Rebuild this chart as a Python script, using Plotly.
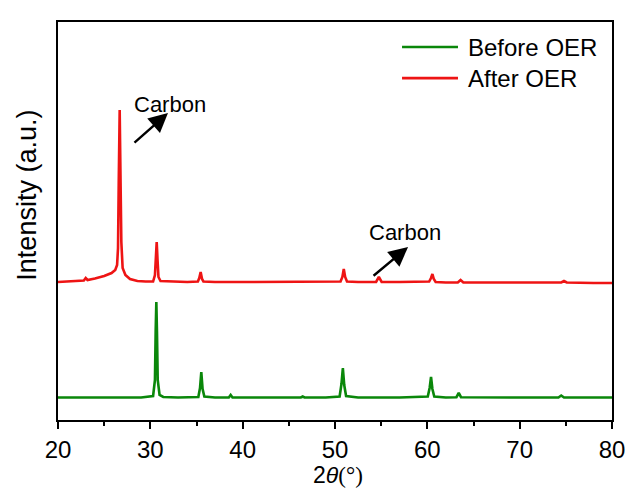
import plotly.graph_objects as go

# XRD patterns (2θ in degrees, intensity in arbitrary units, offset for clarity)
before_2theta = [20.0, 25.0, 29.0, 30.3, 30.5, 30.58, 30.65, 30.72, 30.8, 31.0, 31.4, 33.0,
                 35.2, 35.38, 35.52, 35.66, 35.85, 37.0, 38.5, 38.7, 38.9, 42.0, 46.3, 46.5,
                 46.7, 49.0, 50.5, 50.7, 50.85, 51.0, 51.2, 52.5, 57.0, 60.05, 60.25, 60.4,
                 60.55, 60.75, 62.0, 63.15, 63.4, 63.65, 66.0, 70.0, 74.2, 74.5, 74.8, 78.0, 80.0]
before_intensity = [22.5, 22.5, 22.5, 24, 40, 90, 118, 88, 40, 25, 23, 22.5,
                    23, 32, 48, 31, 23.5, 22.5, 22.5, 25, 22.5, 22.5, 22.5, 23.5,
                    22.5, 22.5, 23.5, 36, 52, 35, 24, 22.5, 22.5, 23.5, 32, 43,
                    31, 23.5, 22.5, 22.8, 27, 22.8, 22.5, 22.5, 22.5, 24.5, 22.5, 22.5, 22.5]

after_2theta = [20.0, 21.0, 22.0, 22.8, 23.0, 23.2, 24.0, 25.0, 25.8, 26.2, 26.4, 26.5,
                26.58, 26.68, 26.78, 26.86, 27.0, 27.3, 27.8, 28.6, 29.5, 30.3, 30.5, 30.6,
                30.69, 30.78, 30.88, 31.1, 32.0, 34.0, 35.15, 35.3, 35.45, 35.6, 35.75, 37.0,
                40.0, 45.0, 48.0, 50.6, 50.8, 50.95, 51.1, 51.3, 52.5, 54.45, 54.75, 55.05,
                57.0, 60.2, 60.4, 60.55, 60.7, 60.9, 62.0, 63.3, 63.6, 63.9, 66.0, 70.0,
                74.5, 74.8, 75.1, 78.0, 80.0]
after_intensity = [138, 138.5, 139, 139.5, 142, 140, 141.5, 144, 147, 150, 155, 172,
                   240, 310, 235, 178, 152, 145, 141, 139, 138.5, 138.5, 145, 168,
                   178, 160, 143, 139, 138.5, 138, 138.5, 142, 148, 141, 138.5, 138,
                   138, 138, 138, 138.5, 143, 151, 143, 138.5, 138, 138, 143, 138,
                   138, 138.5, 142, 146, 141, 138, 137.5, 137.5, 140, 137.5, 137.5, 137.5,
                   137.5, 139, 137.5, 137, 137]

series_names = ["Before OER", "After OER"]
series_colors = ["#0a870a", "#ee1414"]

x_ticks = [20, 30, 40, 50, 60, 70, 80]
label_font = "Liberation Sans, Arial, sans-serif"

fig = go.Figure()
fig.add_trace(go.Scatter(x=before_2theta, y=before_intensity, mode="lines",
                         name=series_names[0], line=dict(color=series_colors[0], width=2.6)))
fig.add_trace(go.Scatter(x=after_2theta, y=after_intensity, mode="lines",
                         name=series_names[1], line=dict(color=series_colors[1], width=2.6)))

# Arrows pointing to the carbon reflections
arrows = [((28.12, 276), (31.91, 307)), ((54.01, 143), (57.91, 173))]
for (tx, ty), (hx, hy) in arrows:
    fig.add_annotation(x=hx, y=hy, ax=tx, ay=ty, xref="x", yref="y", axref="x", ayref="y",
                       text="", showarrow=True, arrowhead=2, arrowsize=1.6,
                       arrowwidth=2.4, arrowcolor="black", standoff=0, startstandoff=0)

for cx, cy in [(32.13, 316), (57.58, 188)]:
    fig.add_annotation(x=cx, y=cy, xref="x", yref="y", text="Carbon", showarrow=False,
                       font=dict(family=label_font, size=22, color="black"))

# Hand-drawn legend
for i, (name, color) in enumerate(zip(series_names, series_colors)):
    ly = [0.937, 0.859][i]
    fig.add_shape(type="line", xref="paper", yref="paper", x0=0.621, x1=0.722, y0=ly, y1=ly,
                  line=dict(color=color, width=2.6))
    fig.add_annotation(x=0.7365, y=ly, xref="paper", yref="paper", text=name,
                       showarrow=False, xanchor="left", yanchor="middle",
                       font=dict(family=label_font, size=24, color="black"))

# Axis titles
fig.add_annotation(x=-0.055, y=0.565, xref="paper", yref="paper", text="Intensity (a.u.)",
                   textangle=-90, showarrow=False, xanchor="center", yanchor="middle",
                   font=dict(family=label_font, size=27, color="black"))
fig.add_annotation(x=0.505, y=-0.139, xref="paper", yref="paper",
                   text="2<i>θ</i><span style='font-family:Liberation Serif'>(°)</span>",
                   showarrow=False, xanchor="center", yanchor="middle",
                   font=dict(family=label_font, size=23, color="black"))

fig.update_xaxes(range=[20, 80], tickmode="array", tickvals=x_ticks,
                 ticktext=[str(t) for t in x_ticks], ticks="outside", ticklen=7,
                 tickwidth=2, tickcolor="black", showline=True, linewidth=2,
                 linecolor="black", mirror=True, showgrid=False, zeroline=False,
                 automargin=False, ticklabelstandoff=0,
                 minor=dict(dtick=5, ticks="outside", ticklen=4, tickwidth=2,
                            tickcolor="black", showgrid=False),
                 tickfont=dict(family=label_font, size=24, color="black"))
fig.update_yaxes(range=[0, 398], showticklabels=False, ticks="", showline=True,
                 linewidth=2, linecolor="black", mirror=True, showgrid=False,
                 zeroline=False, automargin=False)

fig.update_layout(width=628, height=490, autosize=False,
                  margin=dict(l=58, r=16, t=22, b=70),
                  paper_bgcolor="white", plot_bgcolor="white", showlegend=False)

fig.write_html("out.html")
